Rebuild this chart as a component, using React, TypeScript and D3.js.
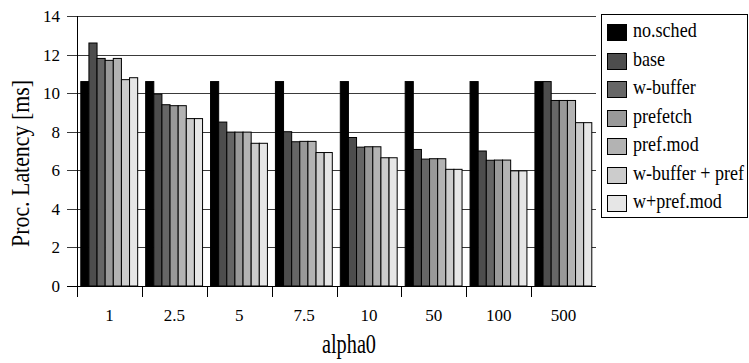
import * as d3 from 'd3';

// alpha0 values on the x axis
const categories = ['1', '2.5', '5', '7.5', '10', '50', '100', '500'];
const seriesNames = ['no.sched', 'base', 'w-buffer', 'prefetch', 'pref.mod', 'w-buffer + pref', 'w+pref.mod'];
const seriesColors = ['#000000', '#4d4d4d', '#666666', '#999999', '#b3b3b3', '#cccccc', '#e6e6e6'];

// Proc. latency [ms] for each series, one value per alpha0
const noSched = [10.6, 10.6, 10.6, 10.6, 10.6, 10.6, 10.6, 10.6];
const base = [12.6, 9.95, 8.5, 8.0, 7.7, 7.08, 7.0, 10.6];
const wBuffer = [11.8, 9.4, 7.98, 7.48, 7.2, 6.58, 6.52, 9.62];
const prefetch = [11.7, 9.35, 7.98, 7.5, 7.22, 6.6, 6.53, 9.62];
const prefMod = [11.8, 9.35, 7.98, 7.5, 7.22, 6.6, 6.53, 9.62];
const wBufferPref = [10.7, 8.68, 7.4, 6.92, 6.65, 6.05, 5.97, 8.47];
const wPrefMod = [10.8, 8.68, 7.4, 6.92, 6.65, 6.05, 5.97, 8.47];
const seriesValues = [noSched, base, wBuffer, prefetch, prefMod, wBufferPref, wPrefMod];

const yTicks = [0, 2, 4, 6, 8, 10, 12, 14];

const FONT = '"Liberation Serif", "Times New Roman", serif';

const App = () => {
  const width = 749;
  const height = 363;
  const left = 77;
  const right = 596;
  const top = 16;
  const bottom = 286;

  const x0 = d3.scaleBand().domain(categories).range([left, right]);
  const bw = x0.bandwidth();
  const x1 = d3.scaleBand().domain(seriesNames).range([3.8, bw - 4.2]);
  const y = d3.scaleLinear().domain([0, 14]).range([bottom, top]);

  const crisp = (v: number) => Math.round(v) + 0.5;

  return (
    <svg width={width} height={height} style={{ position: 'absolute', left: 0, top: 0, background: '#fff' }}>
      {/* gridlines and y ticks */}
      {yTicks.map(t => (
        <g key={t}>
          <line x1={67} x2={t === 0 ? left : right} y1={crisp(y(t))} y2={crisp(y(t))} stroke={t === 0 ? '#000' : '#3a3a3a'} strokeWidth={1} />
          <text x={60} y={y(t)} dy="0.35em" textAnchor="end" fontFamily={FONT} fontSize={17} fill="#000">{t}</text>
        </g>
      ))}

      {/* bars */}
      {categories.map((c, ci) => (
        <g key={c} transform={`translate(${x0(c)},0)`}>
          {seriesNames.map((s, si) => {
            const v = seriesValues[si][ci];
            return (
              <rect key={s} x={x1(s)} y={y(v)} width={x1.bandwidth()} height={y(0) - y(v)}
                fill={seriesColors[si]} stroke="#000" strokeWidth={1} />
            );
          })}
        </g>
      ))}

      {/* axes */}
      <line x1={left} x2={right} y1={crisp(bottom)} y2={crisp(bottom)} stroke="#000" />
      <line x1={crisp(left)} x2={crisp(left)} y1={top} y2={297} stroke="#000" />
      {categories.map(c => (
        <g key={c}>
          <line x1={crisp(x0(c)!)} x2={crisp(x0(c)!)} y1={bottom} y2={297} stroke="#000" />
          <text x={x0(c)! + bw / 2} y={321} textAnchor="middle" fontFamily={FONT} fontSize={17}>{c}</text>
        </g>
      ))}

      <text x={349} y={353} textAnchor="middle" fontFamily={FONT} fontSize={28}
        textLength={54} lengthAdjust="spacingAndGlyphs">alpha0</text>
      <text transform={`translate(29,${163.5}) rotate(-90)`} textAnchor="middle" fontFamily={FONT} fontSize={25}
        textLength={167} lengthAdjust="spacingAndGlyphs">Proc. Latency [ms]</text>

      {/* legend */}
      <rect x={601.5} y={14.5} width={146} height={203} fill="#fff" stroke="#000" />
      {seriesNames.map((s, i) => {
        const cy = 32 + i * 28.5;
        return (
          <g key={s}>
            <rect x={607.5} y={Math.round(cy - 8) + 0.5} width={19} height={16} fill={seriesColors[i]} stroke="#000" />
            <text transform={`translate(633,${cy + 5}) scale(0.86,1)`} fontFamily={FONT} fontSize={21}>{s}</text>
          </g>
        );
      })}
    </svg>
  );
};

export default App;
